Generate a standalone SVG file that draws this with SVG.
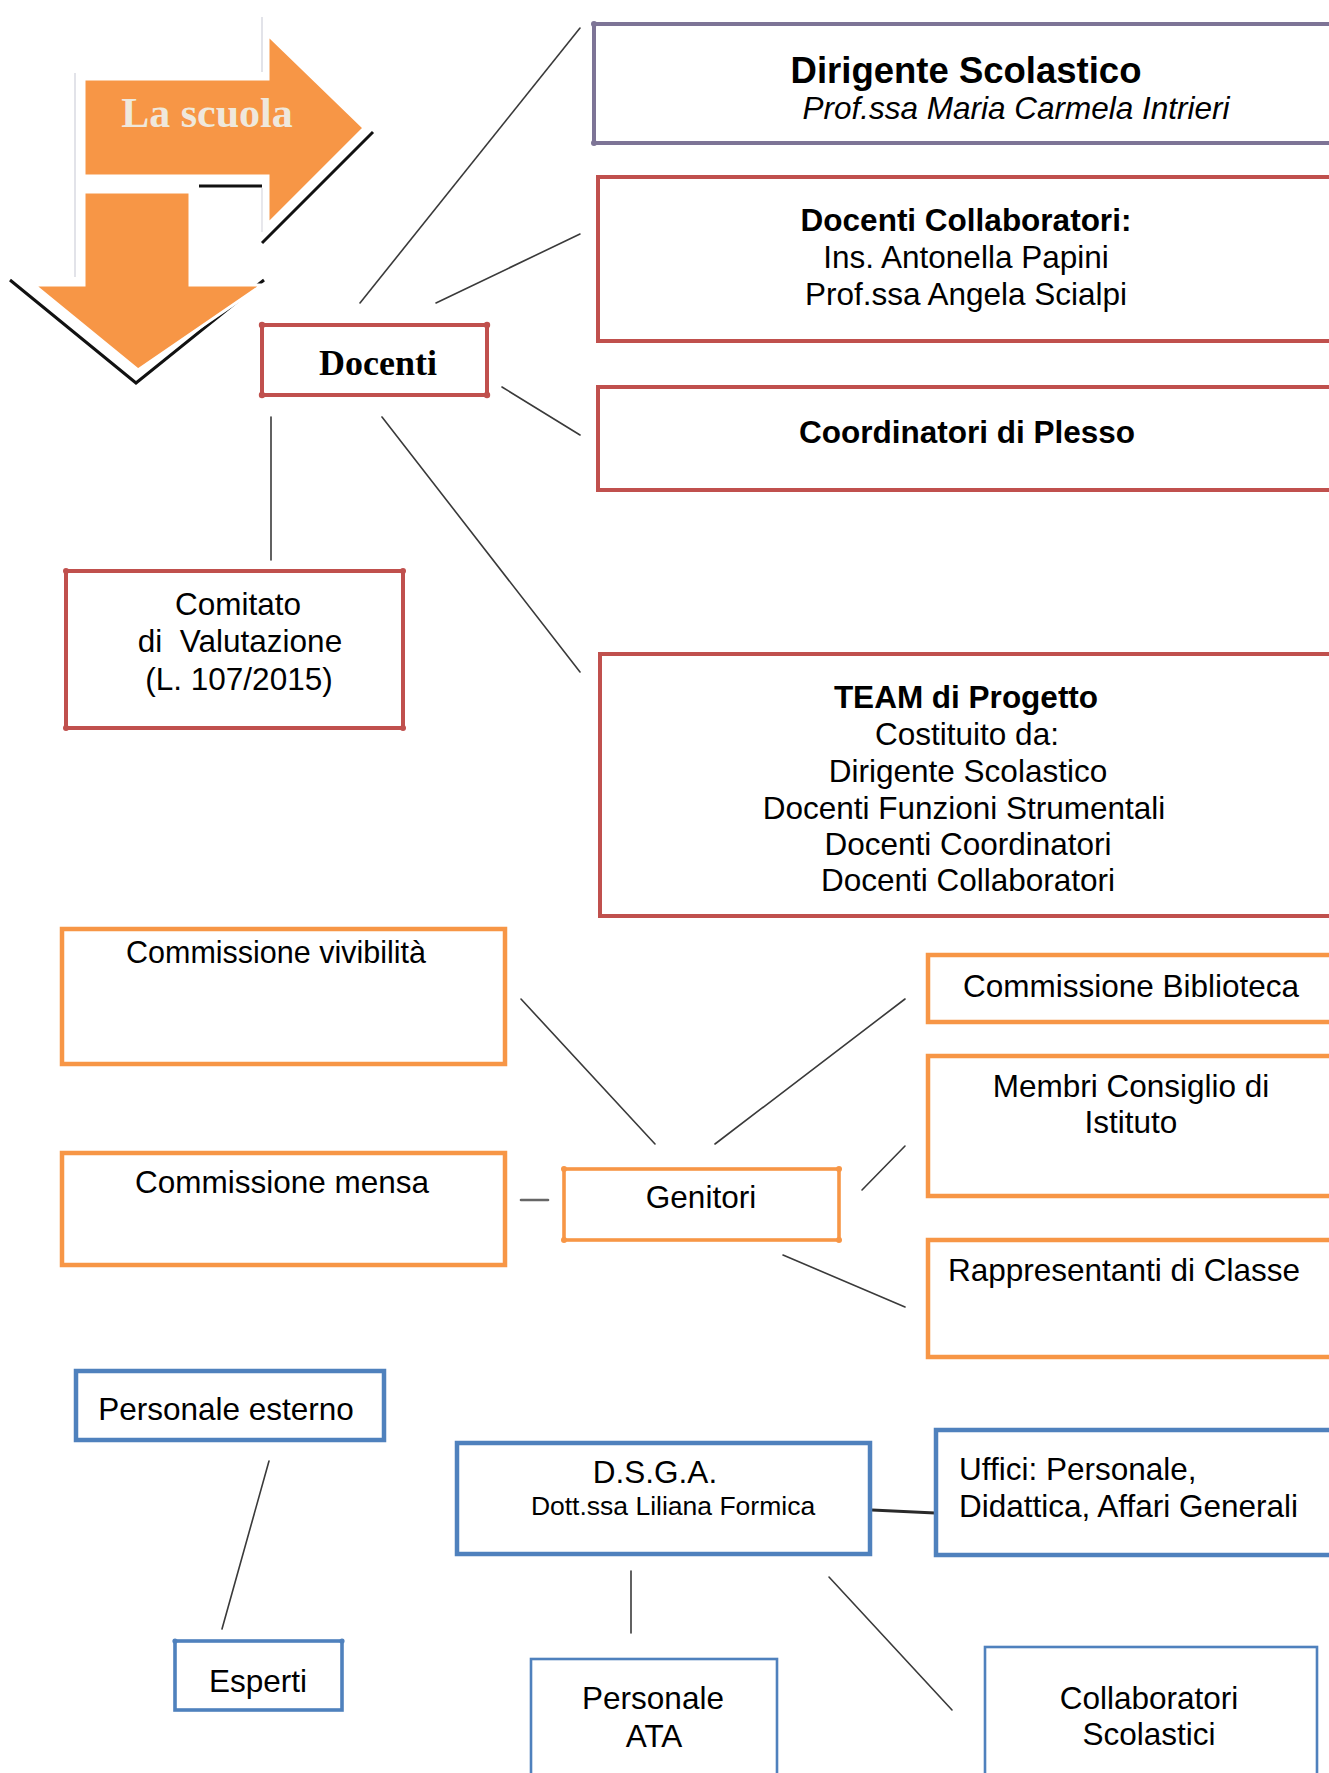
<svg xmlns="http://www.w3.org/2000/svg" width="1329" height="1773" viewBox="0 0 1329 1773">
  <style>
    .box { fill: #ffffff; }
    .red { stroke: #c0504d; stroke-width: 4; }
    .purple { stroke: #7d7496; stroke-width: 4; }
    .orange { stroke: #f79646; stroke-width: 4.5; }
    .blue { stroke: #4f81bd; stroke-width: 4.5; }
    .blue-thin { stroke: #4f81bd; stroke-width: 2.6; }
    .dot-red { fill: #c0504d; }
    .dot-orange { fill: #f79646; }
    .dot-blue { fill: #4f81bd; }
    .dot-purple { fill: #7d7496; }
    .t { font-family: "Liberation Sans", Arial, sans-serif; font-size: 31.5px; fill: #000000; text-anchor: middle; }
    .b { font-weight: bold; }
    .i { font-style: italic; }
    .serif { font-family: "Liberation Serif", "Times New Roman", serif; font-weight: bold; }
    .link { stroke: #3a3a3a; stroke-width: 1.6; fill: none; stroke-linecap: round; }
    .link-thick { stroke: #2a2a2a; stroke-width: 3.2; fill: none; }
  </style>

  <!-- Bent "La scuola" arrow pair -->
  <g id="arrow-la-scuola">
    <line x1="75" y1="73" x2="75" y2="277" stroke="#cfd0da" stroke-width="1.2"/>
    <line x1="262" y1="17" x2="262" y2="72" stroke="#cfd0da" stroke-width="1.2"/>
    <line x1="262" y1="188" x2="262" y2="232" stroke="#d8d8e0" stroke-width="1.2"/>
    <!-- dark shadows under the arrows -->
    <line x1="199" y1="186" x2="262" y2="186" stroke="#111111" stroke-width="3"/>
    <line x1="262" y1="243" x2="373" y2="132" stroke="#111111" stroke-width="3"/>
    <polyline points="10,280 136,383 264,280" fill="none" stroke="#111111" stroke-width="3"/>
    <!-- orange arrows -->
    <polygon points="84,79 268,79 268,35 364,128 268,224 268,176 84,176" fill="#f79646" stroke="#ffffff" stroke-width="3"/>
    <polygon points="84,192 190,192 190,285 262,285 138,370 34,285 84,285" fill="#f79646" stroke="#ffffff" stroke-width="3"/>
    <text x="207" y="127" class="t serif" style="font-size:42px; fill:#efe8dc;">La scuola</text>
  </g>

  <!-- Connectors -->
  <g id="connectors">
    <line class="link" x1="360" y1="303" x2="580" y2="28"/>
    <line class="link" x1="436" y1="303" x2="580" y2="234"/>
    <line class="link" x1="502" y1="387" x2="580" y2="435"/>
    <line class="link" x1="271" y1="417" x2="271" y2="560"/>
    <line class="link" x1="382" y1="417" x2="580" y2="672"/>
    <line class="link" x1="521" y1="999" x2="655" y2="1144"/>
    <line class="link" x1="521" y1="1200" x2="548" y2="1200" style="stroke-width:2.6; stroke:#666666"/>
    <line class="link" x1="715" y1="1144" x2="905" y2="999"/>
    <line class="link" x1="862" y1="1190" x2="905" y2="1146"/>
    <line class="link" x1="783" y1="1255" x2="905" y2="1307"/>
    <line class="link" x1="269" y1="1461" x2="222" y2="1629"/>
    <line class="link" x1="631" y1="1571" x2="631" y2="1633"/>
    <line class="link-thick" x1="872" y1="1510" x2="935" y2="1513"/>
    <line class="link" x1="829" y1="1577" x2="952" y2="1710"/>
  </g>

  <!-- Dirigente Scolastico -->
  <g id="node-dirigente">
    <rect class="box purple" x="594" y="24" width="760" height="119"/>
    <circle class="dot-purple" cx="594" cy="24" r="3"/>
    <circle class="dot-purple" cx="594" cy="143" r="3"/>
    <text x="966" y="83" class="t b" style="font-size:36.5px">Dirigente Scolastico</text>
    <text x="1016" y="119" class="t i">Prof.ssa Maria Carmela Intrieri</text>
  </g>

  <!-- Docenti Collaboratori -->
  <g id="node-collaboratori">
    <rect class="box red" x="598" y="177" width="760" height="164"/>
    <text x="966" y="231" class="t b">Docenti Collaboratori:</text>
    <text x="966" y="268" class="t">Ins. Antonella Papini</text>
    <text x="966" y="305" class="t">Prof.ssa Angela Scialpi</text>
  </g>

  <!-- Coordinatori di Plesso -->
  <g id="node-coordinatori">
    <rect class="box red" x="598" y="387" width="760" height="103"/>
    <text x="967" y="443" class="t b">Coordinatori di Plesso</text>
  </g>

  <!-- Docenti -->
  <g id="node-docenti">
    <rect class="box red" x="262" y="325" width="225" height="70"/>
    <circle class="dot-red" cx="262" cy="325" r="3.2"/>
    <circle class="dot-red" cx="487" cy="325" r="3.2"/>
    <circle class="dot-red" cx="262" cy="395" r="3.2"/>
    <circle class="dot-red" cx="487" cy="395" r="3.2"/>
    <text x="378" y="375" class="t serif" style="font-size:36px">Docenti</text>
  </g>

  <!-- Comitato di Valutazione -->
  <g id="node-comitato">
    <rect class="box red" x="66" y="571" width="337" height="157"/>
    <circle class="dot-red" cx="66" cy="571" r="3"/>
    <circle class="dot-red" cx="403" cy="571" r="3"/>
    <circle class="dot-red" cx="66" cy="728" r="3"/>
    <circle class="dot-red" cx="403" cy="728" r="3"/>
    <text x="238" y="615" class="t">Comitato</text>
    <text x="240" y="652" class="t" xml:space="preserve">di  Valutazione</text>
    <text x="239" y="690" class="t">(L. 107/2015)</text>
  </g>

  <!-- TEAM di Progetto -->
  <g id="node-team">
    <rect class="box red" x="600" y="654" width="760" height="262"/>
    <text x="966" y="708" class="t b">TEAM di Progetto</text>
    <text x="967" y="745" class="t">Costituito da:</text>
    <text x="968" y="782" class="t">Dirigente Scolastico</text>
    <text x="964" y="819" class="t">Docenti Funzioni Strumentali</text>
    <text x="968" y="855" class="t">Docenti Coordinatori</text>
    <text x="968" y="891" class="t">Docenti Collaboratori</text>
  </g>

  <!-- Parents area -->
  <g id="node-vivibilita">
    <rect class="box orange" x="62" y="929" width="443" height="135"/>
    <text x="276" y="963" class="t" style="font-size:30.5px">Commissione vivibilità</text>
  </g>

  <g id="node-mensa">
    <rect class="box orange" x="62" y="1153" width="443" height="112"/>
    <text x="282" y="1193" class="t">Commissione mensa</text>
  </g>

  <g id="node-genitori">
    <rect class="box orange" x="564" y="1169" width="275" height="71" style="stroke-width:3.6"/>
    <circle class="dot-orange" cx="564" cy="1169" r="3"/>
    <circle class="dot-orange" cx="839" cy="1169" r="3"/>
    <circle class="dot-orange" cx="564" cy="1240" r="3"/>
    <circle class="dot-orange" cx="839" cy="1240" r="3"/>
    <text x="701" y="1208" class="t">Genitori</text>
  </g>

  <g id="node-biblioteca">
    <rect class="box orange" x="928" y="955" width="430" height="67"/>
    <text x="1131" y="997" class="t">Commissione Biblioteca</text>
  </g>

  <g id="node-membri">
    <rect class="box orange" x="928" y="1056" width="430" height="140"/>
    <text x="1131" y="1097" class="t">Membri Consiglio di</text>
    <text x="1131" y="1133" class="t">Istituto</text>
  </g>

  <g id="node-rappresentanti">
    <rect class="box orange" x="928" y="1240" width="430" height="117"/>
    <text x="1124" y="1281" class="t">Rappresentanti di Classe</text>
  </g>

  <!-- Staff area -->
  <g id="node-personale-esterno">
    <rect class="box blue" x="76" y="1371" width="308" height="69"/>
    <text x="226" y="1420" class="t">Personale esterno</text>
  </g>

  <g id="node-esperti">
    <rect class="box blue" x="175" y="1641" width="167" height="69" style="stroke-width:3.6"/>
    <circle class="dot-blue" cx="175" cy="1641" r="2.6"/>
    <circle class="dot-blue" cx="342" cy="1641" r="2.6"/>
    <text x="258" y="1692" class="t">Esperti</text>
  </g>

  <g id="node-dsga">
    <rect class="box blue" x="457" y="1443" width="413" height="111"/>
    <text x="655" y="1483" class="t">D.S.G.A.</text>
    <text x="673" y="1515" class="t" style="font-size:26.5px">Dott.ssa Liliana Formica</text>
  </g>

  <g id="node-uffici">
    <rect class="box blue" x="936" y="1430" width="420" height="125"/>
    <text x="959" y="1480" class="t" style="text-anchor:start">Uffici: Personale,</text>
    <text x="959" y="1517" class="t" style="text-anchor:start">Didattica, Affari Generali</text>
  </g>

  <g id="node-ata">
    <rect class="box blue-thin" x="531" y="1659" width="246" height="140"/>
    <text x="653" y="1709" class="t">Personale</text>
    <text x="654" y="1747" class="t">ATA</text>
  </g>

  <g id="node-collaboratori-scolastici">
    <rect class="box blue-thin" x="985" y="1647" width="332" height="150"/>
    <text x="1149" y="1709" class="t">Collaboratori</text>
    <text x="1149" y="1745" class="t">Scolastici</text>
  </g>
</svg>
